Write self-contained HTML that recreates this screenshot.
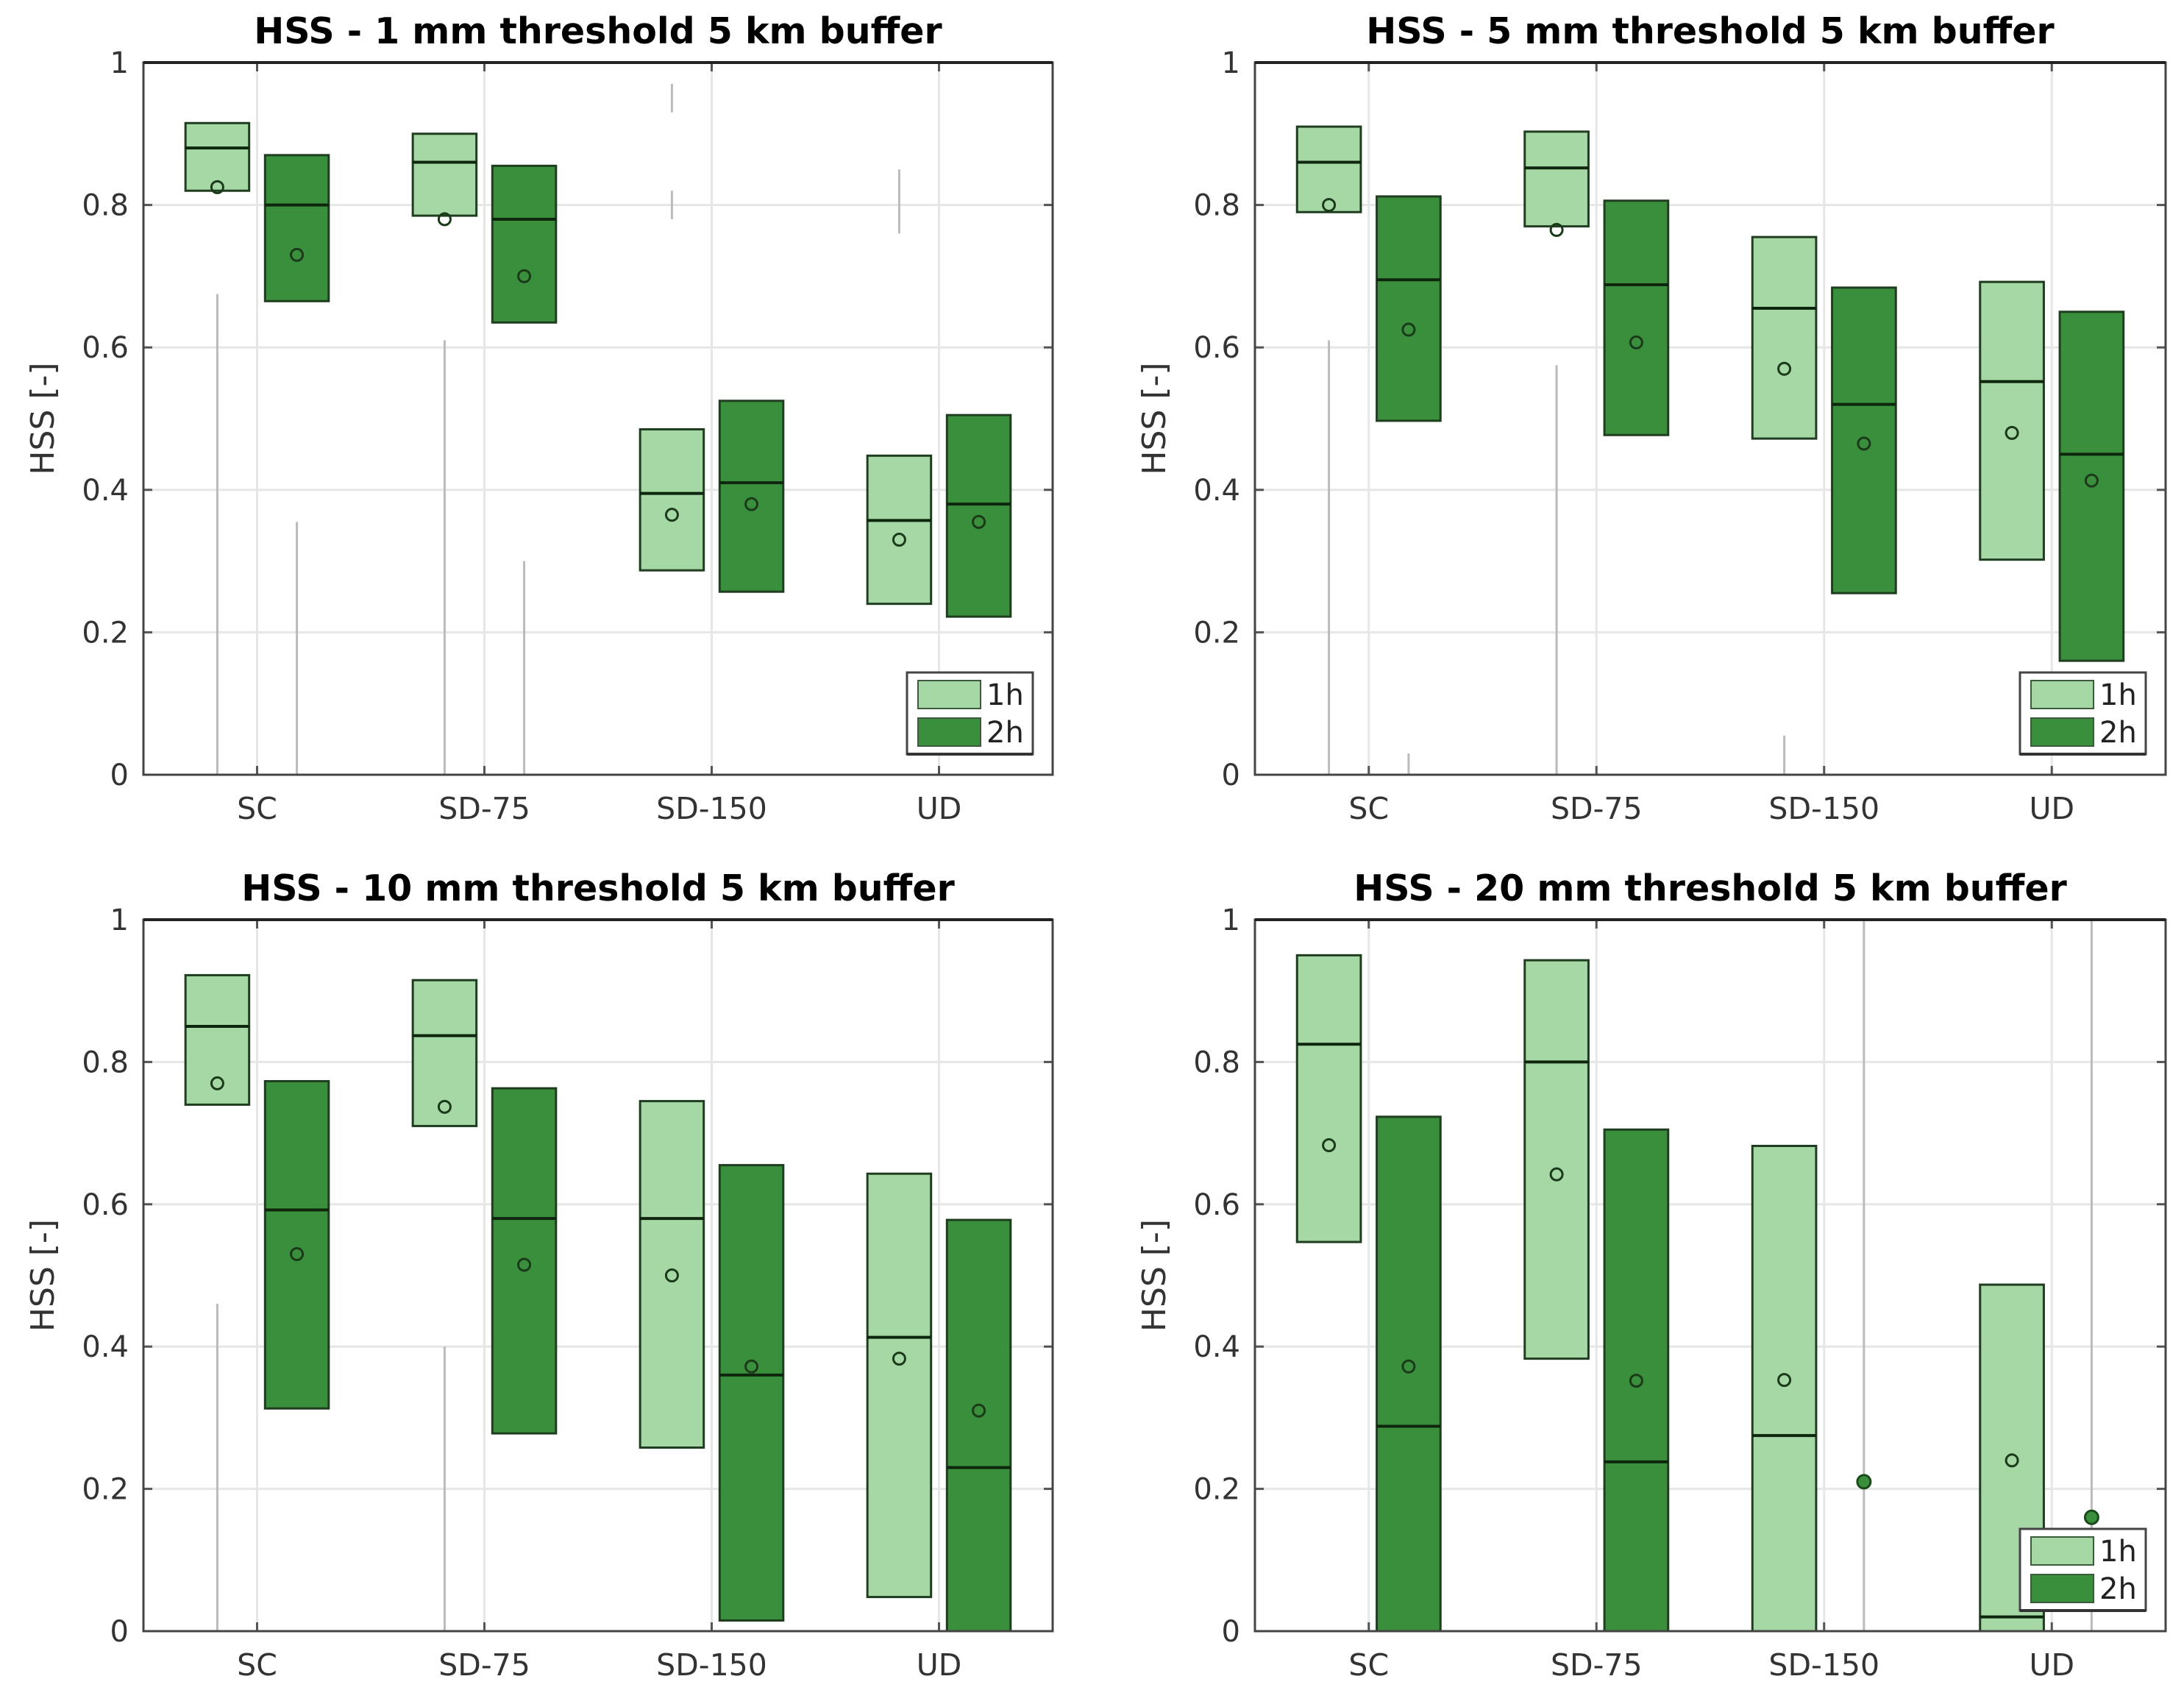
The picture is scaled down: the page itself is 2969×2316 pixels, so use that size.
<!DOCTYPE html>
<html><head><meta charset="utf-8"><style>
html,body{margin:0;padding:0;background:#fff;}
svg{display:block;font-family:"DejaVu Sans","Liberation Sans",sans-serif;}
</style></head><body>
<svg id="fig" width="2969" height="2316" viewBox="0 0 2969 2316" xmlns="http://www.w3.org/2000/svg"></svg>
<script>
const categories = ["SC","SD-75","SD-150","UD"];
const yTicks = [0,0.2,0.4,0.6,0.8,1];
const yTickLabels = ["0","0.2","0.4","0.6","0.8","1"];
const titles = ["HSS - 1 mm threshold 5 km buffer","HSS - 5 mm threshold 5 km buffer","HSS - 10 mm threshold 5 km buffer","HSS - 20 mm threshold 5 km buffer"];
// per panel, per category: [q1, q3, median, mean] ; null = no box
const p1h_1 = [[0.82,0.915,0.88,0.825],[0.785,0.90,0.86,0.78],[0.287,0.485,0.395,0.365],[0.24,0.448,0.357,0.33]];
const p1h_2 = [[0.665,0.87,0.80,0.73],[0.635,0.855,0.78,0.70],[0.257,0.525,0.41,0.38],[0.222,0.505,0.38,0.355]];
const p2h_1 = [[0.79,0.91,0.86,0.80],[0.77,0.903,0.852,0.765],[0.472,0.755,0.655,0.57],[0.302,0.692,0.552,0.48]];
const p2h_2 = [[0.497,0.812,0.695,0.625],[0.477,0.806,0.688,0.607],[0.255,0.684,0.52,0.465],[0.16,0.65,0.45,0.413]];
const p3h_1 = [[0.74,0.922,0.85,0.77],[0.71,0.915,0.837,0.737],[0.258,0.745,0.58,0.50],[0.048,0.643,0.413,0.383]];
const p3h_2 = [[0.313,0.773,0.592,0.53],[0.278,0.763,0.58,0.515],[0.015,0.655,0.36,0.372],[0,0.578,0.23,0.31]];
const p4h_1 = [[0.547,0.95,0.825,0.683],[0.383,0.943,0.80,0.642],[0,0.682,0.275,0.353],[0,0.487,0.02,0.24]];
const p4h_2 = [[0,0.723,0.288,0.372],[0,0.705,0.238,0.352],[null,null,null,0.21],[null,null,null,0.16]];
// faint outlier spreads: [category index, series(0=1h,1=2h), low, high]
const spreads1 = [[0,0,0,0.675],[0,1,0,0.355],[1,0,0,0.61],[1,1,0,0.30],[2,0,0.78,0.82],[2,0,0.93,0.97],[3,0,0.76,0.85]];
const spreads2 = [[0,0,0,0.61],[0,1,0,0.03],[1,0,0,0.575],[2,0,0,0.055]];
const spreads3 = [[0,0,0,0.46],[1,0,0,0.40]];
const spreads4 = [[2,1,0,1],[3,1,0,1]];

const panels = [
 {x0:195,x1:1431,y0:85,y1:1053,a:p1h_1,b:p1h_2,s:spreads1},
 {x0:1706,x1:2944,y0:85,y1:1053,a:p2h_1,b:p2h_2,s:spreads2},
 {x0:195,x1:1431,y0:1250,y1:2217,a:p3h_1,b:p3h_2,s:spreads3},
 {x0:1706,x1:2944,y0:1250,y1:2217,a:p4h_1,b:p4h_2,s:spreads4}
];
const NS="http://www.w3.org/2000/svg";
const svg=document.getElementById('fig');
function mk(tag,attrs,parent,text){const e=document.createElementNS(NS,tag);for(const k in attrs)e.setAttribute(k,attrs[k]);if(text!==undefined)e.textContent=text;(parent||svg).appendChild(e);return e;}
const LIGHT="#a6d8a6", DARK="#3a8f3c", EDGE="#1f3d1f";
panels.forEach((p,pi)=>{
 const g=mk('g',{});
 
 
 const xs=v=>p.x0+(v-0.5)/4*(p.x1-p.x0);
 const ys=v=>p.y1-v*(p.y1-p.y0);
 const bw=0.28, off=0.175;
 yTicks.forEach((t,i)=>{
  const l=mk('line',{x1:p.x0,x2:p.x1,y1:ys(t),y2:ys(t),stroke:"#e6e6e6","stroke-width":3},g);
  
  
  const tx=mk('text',{x:p.x0-20,y:ys(t)+14,"font-size":40,fill:"#333","text-anchor":"end"},g,yTickLabels[i]);
  
  
  mk('line',{x1:p.x0,x2:p.x0+12,y1:ys(t),y2:ys(t),stroke:"#555","stroke-width":3},g);
  mk('line',{x1:p.x1,x2:p.x1-12,y1:ys(t),y2:ys(t),stroke:"#555","stroke-width":3},g);
 });
 categories.forEach((c,i)=>{
  const cx=xs(i+1);
  const l=mk('line',{x1:cx,x2:cx,y1:p.y0,y2:p.y1,stroke:"#e6e6e6","stroke-width":3},g);
  
  
  mk('line',{x1:cx,x2:cx,y1:p.y0,y2:p.y0+12,stroke:"#555","stroke-width":3},g);
  mk('line',{x1:cx,x2:cx,y1:p.y1,y2:p.y1-12,stroke:"#555","stroke-width":3},g);
  const t=mk('text',{x:cx,y:p.y1+60,"font-size":41,fill:"#333","text-anchor":"middle"},g,c);
  
  
 });
 p.s.forEach(s=>{
  const cx=xs(s[0]+1+(s[1]?off:-off));
  const l=mk('line',{x1:cx,x2:cx,y1:ys(s[2]),y2:ys(s[3]),stroke:"#bbb","stroke-width":3},g);
  
  
 });
 [[p.a,LIGHT,-off,'1h'],[p.b,DARK,off,'2h']].forEach(([arr,col,o,lab])=>{
  arr.forEach((d,i)=>{
   const cx=xs(i+1+o), x0=xs(i+1+o-bw/2), x1=xs(i+1+o+bw/2);
   if(d[0]!==null){
    const r=mk('rect',{x:x0,y:ys(d[1]),width:x1-x0,height:ys(d[0])-ys(d[1]),fill:col,stroke:EDGE,"stroke-width":3},g);
    
    
    const m=mk('line',{x1:x0,x2:x1,y1:ys(d[2]),y2:ys(d[2]),stroke:"#0d260d","stroke-width":4},g);
    
    
    const c=mk('circle',{cx:cx,cy:ys(d[3]),r:8,fill:"none",stroke:"#1a3a1a","stroke-width":3},g);
    
    
   } else {
    const c=mk('circle',{cx:cx,cy:ys(d[3]),r:9,fill:DARK,stroke:"#1a4a1a","stroke-width":3},g);
    
    
   }
  });
 });
 const ax=mk('rect',{x:p.x0,y:p.y0,width:p.x1-p.x0,height:p.y1-p.y0,fill:"none",stroke:"#444","stroke-width":3},g);
 
 
 mk('line',{x1:p.x0,x2:p.x1,y1:p.y0,y2:p.y0,stroke:"#222","stroke-width":4},g);
 const tt=mk('text',{x:(p.x0+p.x1)/2,y:p.y0-26,"font-size":49,"font-weight":"bold",fill:"#000","text-anchor":"middle"},g,titles[pi]);
 
 
 const yl=mk('text',{x:0,y:0,"font-size":44,fill:"#333","text-anchor":"middle",transform:`translate(${p.x0-122},${(p.y0+p.y1)/2}) rotate(-90)`},g,"HSS [-]");
 
 
 if(pi!==2){
  const lx=p.x1-198, ly=p.y1-139;
  const lg=mk('g',{},g);
  
  
  mk('rect',{x:lx,y:ly,width:171,height:111,fill:"#fff",stroke:"#444","stroke-width":3},lg);
  mk('line',{x1:lx,x2:lx+171,y1:ly+111,y2:ly+111,stroke:"#333","stroke-width":4},lg);
  [[LIGHT,'1h',11],[DARK,'2h',62]].forEach(([c,t,dy])=>{
   const e=mk('rect',{x:lx+15,y:ly+dy,width:85,height:38,fill:c,stroke:"#3c5a3c","stroke-width":2},lg);
   
   
   const tx=mk('text',{x:lx+108,y:ly+dy+33,"font-size":40,fill:"#222"},lg,t);
   
   
  });
 }
});
</script>
</body></html>
